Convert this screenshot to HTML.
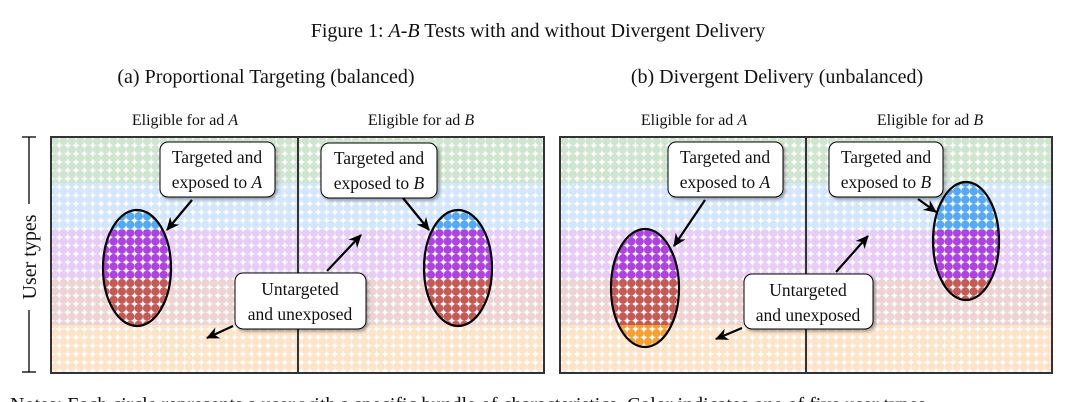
<!DOCTYPE html>
<html><head><meta charset="utf-8"><style>
html,body{margin:0;padding:0;background:#fff;}
svg{display:block;}
text{font-family:"Liberation Serif",serif;fill:#111;}
</style></head><body>
<svg width="1076" height="402" viewBox="0 0 1076 402" xmlns="http://www.w3.org/2000/svg">
<defs>
<pattern id="pg" x="51" y="137" width="8.35" height="8.35" patternUnits="userSpaceOnUse"><rect width="8.35" height="8.35" fill="#fff"/><circle cx="4.17" cy="4.17" r="4.15" fill="#cfe5cf"/></pattern>
<pattern id="pb" x="51" y="137" width="8.35" height="8.35" patternUnits="userSpaceOnUse"><rect width="8.35" height="8.35" fill="#fff"/><circle cx="4.17" cy="4.17" r="4.15" fill="#d3e6fb"/></pattern>
<pattern id="pp" x="51" y="137" width="8.35" height="8.35" patternUnits="userSpaceOnUse"><rect width="8.35" height="8.35" fill="#fff"/><circle cx="4.17" cy="4.17" r="4.15" fill="#e7cdf5"/></pattern>
<pattern id="pr" x="51" y="137" width="8.35" height="8.35" patternUnits="userSpaceOnUse"><rect width="8.35" height="8.35" fill="#fff"/><circle cx="4.17" cy="4.17" r="4.15" fill="#eed3d3"/></pattern>
<pattern id="po" x="51" y="137" width="8.35" height="8.35" patternUnits="userSpaceOnUse"><rect width="8.35" height="8.35" fill="#fff"/><circle cx="4.17" cy="4.17" r="4.15" fill="#fde4c8"/></pattern>
<pattern id="sb" x="51" y="137" width="8.35" height="8.35" patternUnits="userSpaceOnUse"><rect width="8.35" height="8.35" fill="#fff"/><circle cx="4.17" cy="4.17" r="4.15" fill="#55a8f5"/></pattern>
<pattern id="sp" x="51" y="137" width="8.35" height="8.35" patternUnits="userSpaceOnUse"><rect width="8.35" height="8.35" fill="#fff"/><circle cx="4.17" cy="4.17" r="4.15" fill="#ae42e0"/></pattern>
<pattern id="sr" x="51" y="137" width="8.35" height="8.35" patternUnits="userSpaceOnUse"><rect width="8.35" height="8.35" fill="#fff"/><circle cx="4.17" cy="4.17" r="4.15" fill="#c45a56"/></pattern>
<pattern id="so" x="51" y="137" width="8.35" height="8.35" patternUnits="userSpaceOnUse"><rect width="8.35" height="8.35" fill="#fff"/><circle cx="4.17" cy="4.17" r="4.15" fill="#f5a030"/></pattern>
<clipPath id="c1"><ellipse cx="137" cy="268" rx="34" ry="58"/></clipPath>
<clipPath id="c2"><ellipse cx="458" cy="268" rx="34" ry="58"/></clipPath>
<clipPath id="c3"><ellipse cx="645" cy="288" rx="34" ry="59"/></clipPath>
<clipPath id="c4"><ellipse cx="966" cy="241" rx="33" ry="59"/></clipPath>
<marker id="ar" markerWidth="14" markerHeight="14" refX="12" refY="7" orient="auto" markerUnits="userSpaceOnUse"><path d="M0,1 L13,7 L0,13 L4,7 Z" fill="#000"/></marker>
<filter id="sh" x="-10%" y="-10%" width="130%" height="130%"><feDropShadow dx="2" dy="2" stdDeviation="1.5" flood-color="#000" flood-opacity="0.35"/></filter>
</defs>

<text x="538" y="37" font-size="20" text-anchor="middle">Figure 1: <tspan font-style="italic">A</tspan>-<tspan font-style="italic">B</tspan> Tests with and without Divergent Delivery</text>
<text x="266" y="83" font-size="20" text-anchor="middle">(a) Proportional Targeting (balanced)</text>
<text x="777" y="83" font-size="20" text-anchor="middle">(b) Divergent Delivery (unbalanced)</text>
<g font-size="16" text-anchor="middle">
<text x="185" y="125">Eligible for ad <tspan font-style="italic">A</tspan></text>
<text x="421" y="125">Eligible for ad <tspan font-style="italic">B</tspan></text>
<text x="694" y="125">Eligible for ad <tspan font-style="italic">A</tspan></text>
<text x="930" y="125">Eligible for ad <tspan font-style="italic">B</tspan></text>
</g>

<g stroke="#000" stroke-width="1.3">
<line x1="29" y1="137" x2="29" y2="204"/><line x1="29" y1="310" x2="29" y2="372"/>
<line x1="22" y1="137" x2="36" y2="137"/><line x1="22" y1="372" x2="36" y2="372"/>
</g>
<text x="0" y="0" font-size="20" text-anchor="middle" transform="translate(36,257) rotate(-90)">User types</text>

<g>
<rect x="51" y="137" width="493" height="46" fill="url(#pg)"/>
<rect x="51" y="183" width="493" height="47" fill="url(#pb)"/>
<rect x="51" y="230" width="493" height="48" fill="url(#pp)"/>
<rect x="51" y="278" width="493" height="47" fill="url(#pr)"/>
<rect x="51" y="325" width="493" height="48" fill="url(#po)"/>
<rect x="560" y="137" width="492" height="46" fill="url(#pg)"/>
<rect x="560" y="183" width="492" height="47" fill="url(#pb)"/>
<rect x="560" y="230" width="492" height="48" fill="url(#pp)"/>
<rect x="560" y="278" width="492" height="47" fill="url(#pr)"/>
<rect x="560" y="325" width="492" height="48" fill="url(#po)"/>
</g>

<g clip-path="url(#c1)"><rect x="100" y="205" width="80" height="25" fill="url(#sb)"/><rect x="100" y="230" width="80" height="48" fill="url(#sp)"/><rect x="100" y="278" width="80" height="55" fill="url(#sr)"/></g>
<g clip-path="url(#c2)"><rect x="420" y="205" width="80" height="25" fill="url(#sb)"/><rect x="420" y="230" width="80" height="48" fill="url(#sp)"/><rect x="420" y="278" width="80" height="55" fill="url(#sr)"/></g>
<g clip-path="url(#c3)"><rect x="605" y="225" width="80" height="53" fill="url(#sp)"/><rect x="605" y="278" width="80" height="47" fill="url(#sr)"/><rect x="605" y="325" width="80" height="30" fill="url(#so)"/></g>
<g clip-path="url(#c4)"><rect x="925" y="178" width="80" height="52" fill="url(#sb)"/><rect x="925" y="230" width="80" height="48" fill="url(#sp)"/><rect x="925" y="278" width="80" height="28" fill="url(#sr)"/></g>
<g fill="none" stroke="#000" stroke-width="2.2">
<ellipse cx="137" cy="268" rx="34" ry="58"/>
<ellipse cx="458" cy="268" rx="34" ry="58"/>
<ellipse cx="645" cy="288" rx="34" ry="59"/>
<ellipse cx="966" cy="241" rx="33" ry="59"/>
</g>

<g fill="none" stroke="#333" stroke-width="2">
<rect x="51" y="137" width="493" height="236"/><line x1="298" y1="137" x2="298" y2="373"/>
<rect x="560" y="137" width="492" height="236"/><line x1="806" y1="137" x2="806" y2="373"/>
</g>

<g stroke="#000" stroke-width="2.2" marker-end="url(#ar)">
<line x1="192" y1="200" x2="167" y2="230"/>
<line x1="403" y1="198" x2="429" y2="230"/>
<line x1="327" y1="271" x2="361" y2="235"/>
<line x1="233" y1="326" x2="207" y2="338"/>
<line x1="705" y1="200" x2="674" y2="246"/>
<line x1="918" y1="199" x2="936" y2="212"/>
<line x1="836" y1="272" x2="868" y2="236"/>
<line x1="742" y1="328" x2="716" y2="339"/>
</g>

<g fill="#fff" stroke="#000" stroke-width="1" filter="url(#sh)">
<rect x="160" y="142" width="115" height="55" rx="8"/>
<rect x="321" y="143" width="116" height="55" rx="8"/>
<rect x="235" y="273" width="131" height="56" rx="8"/>
<rect x="668" y="142" width="115" height="55" rx="8"/>
<rect x="829" y="142" width="114" height="55" rx="8"/>
<rect x="744" y="274" width="129" height="55" rx="8"/>
</g>
<g font-size="17.5" text-anchor="middle">
<text x="217" y="163">Targeted and</text><text x="217" y="188">exposed to <tspan font-style="italic">A</tspan></text>
<text x="379" y="164">Targeted and</text><text x="379" y="189">exposed to <tspan font-style="italic">B</tspan></text>
<text x="300" y="295">Untargeted</text><text x="300" y="320">and unexposed</text>
<text x="725" y="163">Targeted and</text><text x="725" y="188">exposed to <tspan font-style="italic">A</tspan></text>
<text x="886" y="163">Targeted and</text><text x="886" y="188">exposed to <tspan font-style="italic">B</tspan></text>
<text x="808" y="296">Untargeted</text><text x="808" y="321">and unexposed</text>
</g>

<text x="10" y="411" font-size="20">Notes: Each circle represents a user with a specific bundle of characteristics. Color indicates one of five user types.</text>
</svg>
</body></html>
